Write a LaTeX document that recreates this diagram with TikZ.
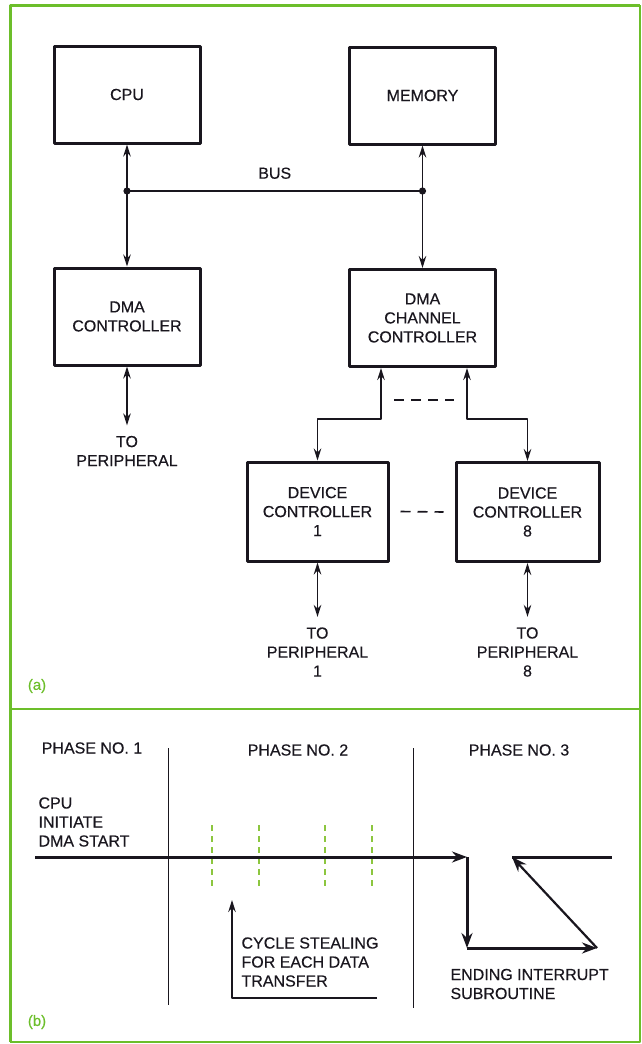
\documentclass[tikz,border=0pt]{standalone}
\usepackage{fontspec}
\setmainfont[FakeBold=0.4]{Liberation Sans}
\usetikzlibrary{arrows.meta,calc}
\definecolor{framegreen}{RGB}{108,190,42}
\definecolor{tickgreen}{RGB}{140,198,63}
\definecolor{ink}{RGB}{25,22,30}
\tikzset{
  blk/.style={draw, line width=3pt, minimum width=146pt, minimum height=97pt, align=center, inner sep=0pt},
  devblk/.style={blk, minimum width=141pt, minimum height=99pt},
  wire/.style={line width=1.6pt},
  toper/.style={wire, <->, shorten >=7pt},
  gap/.style={wire, dash pattern=on 10pt off 7pt},
  flow/.style={line width=3pt, -{Stealth[length=15pt,width=11pt]}},
  tick/.style={tickgreen, line width=1.5pt, dash pattern=on 6pt off 5pt},
  phase/.style={ink, line width=1pt},
  tag/.style={framegreen, font=\fontsize{15}{18}\selectfont}
}
\begin{document}
\begin{tikzpicture}[x=1pt, y=-1pt, >={Stealth[length=12pt,width=7.5pt]}, line join=round,
  font=\fontsize{16}{19}\selectfont, ink, align=center]
\useasboundingbox (0,0) rectangle (642,1044);
% Khung xanh
\draw[framegreen, line width=3pt] (640,5) -- (10,5) -- (10,1042);
\draw[framegreen, line width=2pt] (640,5) -- (640,1042) -- (10,1042);
\draw[framegreen, line width=2pt] (10,709) -- (640,709);

% (a) Các khối
\node[blk] (cpu) at (127,94.5) {CPU};
\node[blk] (mem) at (422.5,95.5) {MEMORY};
\node[blk] (dma) at (127,316.5) {DMA\\CONTROLLER};
\node[blk] (chan) at (422.5,318) {DMA\\CHANNEL\\CONTROLLER};
\node[devblk] (dev1) at (317.5,511.5) {DEVICE\\CONTROLLER\\1};
\node[devblk, minimum width=143pt] (dev8) at (527.5,512) {DEVICE\\CONTROLLER\\8};

% Bus
\coordinate (busl) at (127,191);
\coordinate (busr) at (422.5,191);
\draw[wire] (busl) -- node[above=8pt] {BUS} (busr);
\fill (busl) circle (3.6pt);
\fill (busr) circle (3.6pt);
\draw[wire, <-] (cpu) -- (busl);
\draw[wire, ->] (busl) -- (dma);
\draw[wire, <-] (mem) -- (busr);
\draw[wire, ->] (busr) -- (chan);

% Kênh DMA tới các bộ điều khiển thiết bị
\draw[wire, <->] ([xshift=-41.5pt]chan.south) -- ++(0,51) -| (dev1);
\draw[wire, <->] ([xshift=44.5pt]chan.south) -- ++(0,51) -| (dev8);
\draw[gap] ([xshift=-28.5pt,yshift=-32pt]chan.south) -- ([xshift=31.5pt,yshift=-32pt]chan.south);
\draw[gap] ([xshift=11pt]dev1.east) -- ([xshift=-11pt]dev8.west);

% Ngoại vi
\node (per0) at (127,451) {TO\\PERIPHERAL};
\node (per1) at (317.5,652) {TO\\PERIPHERAL\\1};
\node (per8) at (527.5,652) {TO\\PERIPHERAL\\8};
\draw[toper] (dma) -- (per0);
\draw[toper] (dev1) -- (per1);
\draw[toper] (dev8) -- (per8);
\node[tag] (taga) at (37,686) {(a)};

% (b) Các pha
\node (ph1) at (92,748) {PHASE NO. 1};
\node (ph2) at (298,750) {PHASE NO. 2};
\node (ph3) at (519,750) {PHASE NO. 3};
\draw[phase] (168,748) -- (168,1005);
\draw[phase] (413,748) -- (413,1008);
\node[anchor=west, align=left] (init) at (35,822) {CPU\\INITIATE\\DMA START};

% Lấy cắp chu kỳ
\foreach \x in {212,259,325,372}
  \draw[tick] (\x,825) -- (\x,887);

% Đường chính
\coordinate (s0) at (35,857);
\coordinate (s1) at (467,857);
\coordinate (s2) at (467,948);
\coordinate (s3) at (597,948);
\coordinate (s4) at (512,857);
\coordinate (s5) at (612,857);
\draw[flow] (s0) -- (s1);
\draw[flow] (s1) -- (s2);
\draw[flow] (s2) -- (s3);
\draw[flow, line width=2.2pt] (s3) -- (s4);
\draw[line width=3pt] (s4) -- (s5);

\coordinate (c0) at (377,998);
\coordinate (c1) at (232,998);
\coordinate (c2) at (232,900);
\draw[line width=1.2pt, ->] (c0) -- (c1) -- (c2);
\node[anchor=west, align=left] (cyc) at (238,962) {CYCLE STEALING\\FOR EACH DATA\\TRANSFER};
\node[anchor=west, align=left] (endint) at (447,984) {ENDING INTERRUPT\\SUBROUTINE};
\node[tag] (tagb) at (37,1022) {(b)};
\end{tikzpicture}
\end{document}
